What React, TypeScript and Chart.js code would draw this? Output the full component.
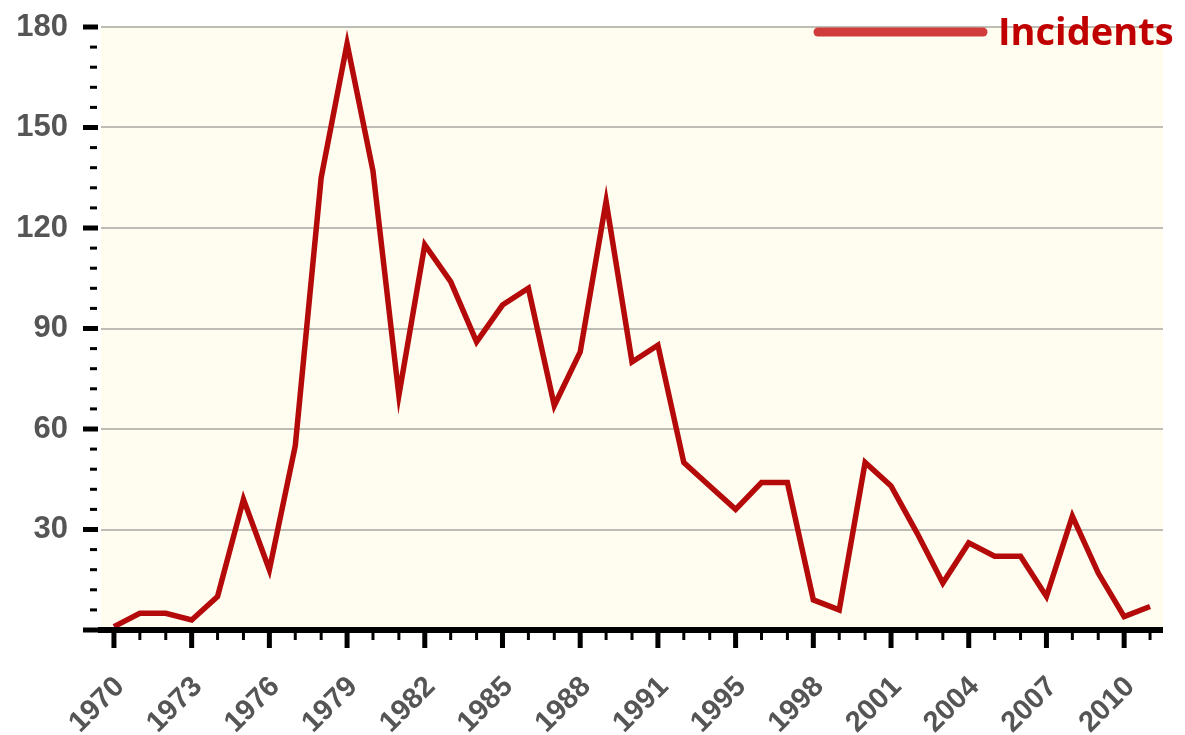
import React, { useEffect, useRef } from "react";
import { Chart, registerables } from "chart.js";

Chart.register(...registerables);

const years: string[] = [
  "1970", "1971", "1972", "1973", "1974", "1975", "1976", "1977", "1978", "1979",
  "1980", "1981", "1982", "1983", "1984", "1985", "1986", "1987", "1988", "1989",
  "1990", "1991", "1992", "1994", "1995", "1996", "1997", "1998", "1999", "2000",
  "2001", "2002", "2003", "2004", "2005", "2006", "2007", "2008", "2009", "2010", "2011",
];

const incidents: number[] = [
  1, 5, 5, 3, 10, 39, 18, 55, 135, 175,
  137, 70, 115, 104, 86, 97, 102, 67, 83, 128,
  80, 85, 50, 43, 36, 44, 44, 9, 6, 50,
  43, 29, 14, 26, 22, 22, 10, 34, 17, 4, 7,
];

const yMin = 0;
const yMax = 180;
const yMajorStep = 30;
const yMinorStep = 6;
const xLabelEvery = 3;

const seriesName = "Incidents";

const decorPlugin = {
  id: "decor",
  beforeDraw(chart: any) {
    const { ctx, chartArea } = chart;
    ctx.save();
    ctx.fillStyle = "#fffdf0";
    ctx.fillRect(chartArea.left, chartArea.top, chartArea.right - chartArea.left, chartArea.bottom - chartArea.top);
    ctx.restore();
  },
  afterDraw(chart: any) {
    const { ctx, chartArea } = chart;
    const xs = chart.scales.x;
    const ys = chart.scales.y;
    ctx.save();
    ctx.fillStyle = "#000";
    for (let v = yMin; v <= yMax; v += yMinorStep) {
      const y = ys.getPixelForValue(v);
      if (v % yMajorStep === 0) {
        ctx.fillRect(chartArea.left - 18, y - 2.5, 15, 5);
      } else {
        ctx.fillRect(chartArea.left - 11, y - 1.5, 7, 3);
      }
    }
    const by = ys.getPixelForValue(0);
    ctx.fillRect(chartArea.left - 3, by - 3, chartArea.right - chartArea.left + 3, 6);
    for (let i = 0; i < years.length; i++) {
      const x = xs.getPixelForValue(i);
      if (i % xLabelEvery === 0) {
        ctx.fillRect(x - 2.5, by, 5, 18);
      } else {
        ctx.fillRect(x - 1.5, by, 3, 10);
      }
    }
    const lx1 = chartArea.right - 345;
    const lx2 = chartArea.right - 180;
    const ly = chartArea.top + 5;
    ctx.strokeStyle = "#d03c3c";
    ctx.lineWidth = 9;
    ctx.lineCap = "round";
    ctx.beginPath();
    ctx.moveTo(lx1, ly);
    ctx.lineTo(lx2, ly);
    ctx.stroke();
    ctx.fillStyle = "#c00000";
    ctx.font = "bold 38px 'Open Sans'";
    ctx.textAlign = "left";
    ctx.textBaseline = "alphabetic";
    ctx.fillText(seriesName, lx2 + 15, chartArea.top + 18);
    ctx.restore();
  },
};

export default function App() {
  const ref = useRef<HTMLCanvasElement | null>(null);
  useEffect(() => {
    if (!ref.current) return;
    const chart = new Chart(ref.current, {
      type: "line",
      data: {
        labels: years,
        datasets: [
          {
            label: seriesName,
            data: incidents,
            borderColor: "#b50a0a",
            backgroundColor: "#b50a0a",
            borderWidth: 5.5,
            pointRadius: 0,
            tension: 0,
            fill: false,
          },
        ],
      },
      options: {
        animation: false,
        responsive: false,
        maintainAspectRatio: false,
        layout: { padding: { top: 27, right: 22, left: 0, bottom: 0 } },
        plugins: {
          legend: { display: false },
          tooltip: { enabled: false },
        },
        scales: {
          x: {
            type: "category",
            offset: true,
            grid: { display: false, drawTicks: false },
            border: { display: false },
            afterFit: (s: any) => {
              s.height = 105;
              s.paddingLeft = 0;
              s.paddingRight = 0;
            },
            ticks: {
              autoSkip: false,
              minRotation: 45,
              maxRotation: 45,
              padding: 40,
              labelOffset: 6,
              color: "#555",
              font: { family: "'Liberation Sans', Arial, sans-serif", size: 29, weight: "bold" },
              callback: (_v: any, i: number) => (i % xLabelEvery === 0 ? years[i] : ""),
            },
          },
          y: {
            min: yMin,
            max: yMax,
            grid: { color: "#bdbdb5", lineWidth: 2, drawTicks: false },
            border: { display: false },
            afterFit: (s: any) => {
              s.width = 101;
              s.paddingTop = 0;
              s.paddingBottom = 0;
            },
            ticks: {
              stepSize: yMajorStep,
              padding: 33,
              color: "#555",
              font: { family: "'Liberation Sans', Arial, sans-serif", size: 31, weight: "bold" },
              callback: (v: any) => (v === 0 ? "" : String(v)),
            },
          },
        },
      },
      plugins: [decorPlugin],
    });
    return () => chart.destroy();
  }, []);
  return (
    <div style={{ position: "absolute", left: 0, top: 0, width: 1185, height: 735, background: "#fff" }}>
      <canvas ref={ref} width={1185} height={735} style={{ width: 1185, height: 735, display: "block" }} />
    </div>
  );
}
